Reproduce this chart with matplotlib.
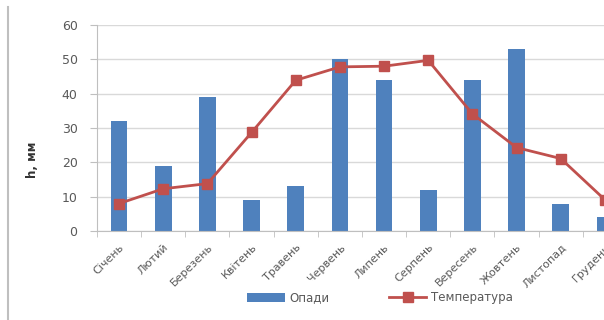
import matplotlib.pyplot as plt
from matplotlib.lines import Line2D
import numpy as np

months = ['Січень', 'Лютий', 'Березень', 'Квітень', 'Травень', 'Червень',
          'Липень', 'Серпень', 'Вересень', 'Жовтень', 'Листопад', 'Грудень']
opady = [32, 19, 39, 9, 13, 50, 44, 12, 44, 53, 8, 4]
temperatura = [8, 12.3, 13.8, 28.7, 43.9, 47.8, 48, 49.7, 34.1, 24.3, 21.1, 9.1]

blue = '#4F81BD'
red = '#C0504D'
grey_txt = '#595959'

plt.rcParams['font.family'] = ['DejaVu Sans']

fig = plt.figure(figsize=(6.04, 3.2), dpi=100)
# plot area runs past the right edge, like the cropped original
ax = fig.add_axes([97 / 604, 1 - 231 / 320, 530 / 604, 206 / 320])

x = np.arange(len(months))
bars = ax.bar(x, opady, width=0.38, color=blue, zorder=2, label='Опади')
line, = ax.plot(x, temperatura, color=red, lw=2, marker='s', ms=7, zorder=3,
                label='Температура')

ax.set_xlim(-0.5, 11.5)
ax.set_ylim(0, 60)
ax.set_yticks(range(0, 61, 10))
ax.yaxis.grid(True, color='#D9D9D9', lw=1, zorder=0)
ax.set_axisbelow(True)

for s in ['top', 'right']:
    ax.spines[s].set_visible(False)
for s in ['left', 'bottom']:
    ax.spines[s].set_color('#BFBFBF')

ax.set_xticks(x)
ax.set_xticklabels(months, rotation=45, ha='right', rotation_mode='anchor',
                   fontsize=8, color=grey_txt)
ax.tick_params(axis='x', length=0, pad=8)
ax.set_xticks(np.arange(-0.5, 12, 1), minor=True)
ax.tick_params(axis='x', which='minor', length=4, color='#BFBFBF')
ax.tick_params(axis='y', length=5, color='#BFBFBF', labelsize=9,
               labelcolor=grey_txt, pad=9)

fig.text(32 / 604, 1 - 160 / 320, 'h, мм', rotation=90, ha='center',
         va='center', fontsize=8.5, fontweight='bold', color='#333333')

# chart frame left edge
fig.add_artist(Line2D([8 / 604, 8 / 604], [0, 1 - 7 / 320],
                      color='#BFBFBF', lw=1.5))

fig.legend([bars, line], ['Опади', 'Температура'], loc='center',
           bbox_to_anchor=(380 / 604, 1 - 298 / 320),
           ncol=2, frameon=False, fontsize=8.5, labelcolor=grey_txt,
           columnspacing=5, handlelength=3.2, handletextpad=0.4)

plt.savefig('out.png', dpi=100)
